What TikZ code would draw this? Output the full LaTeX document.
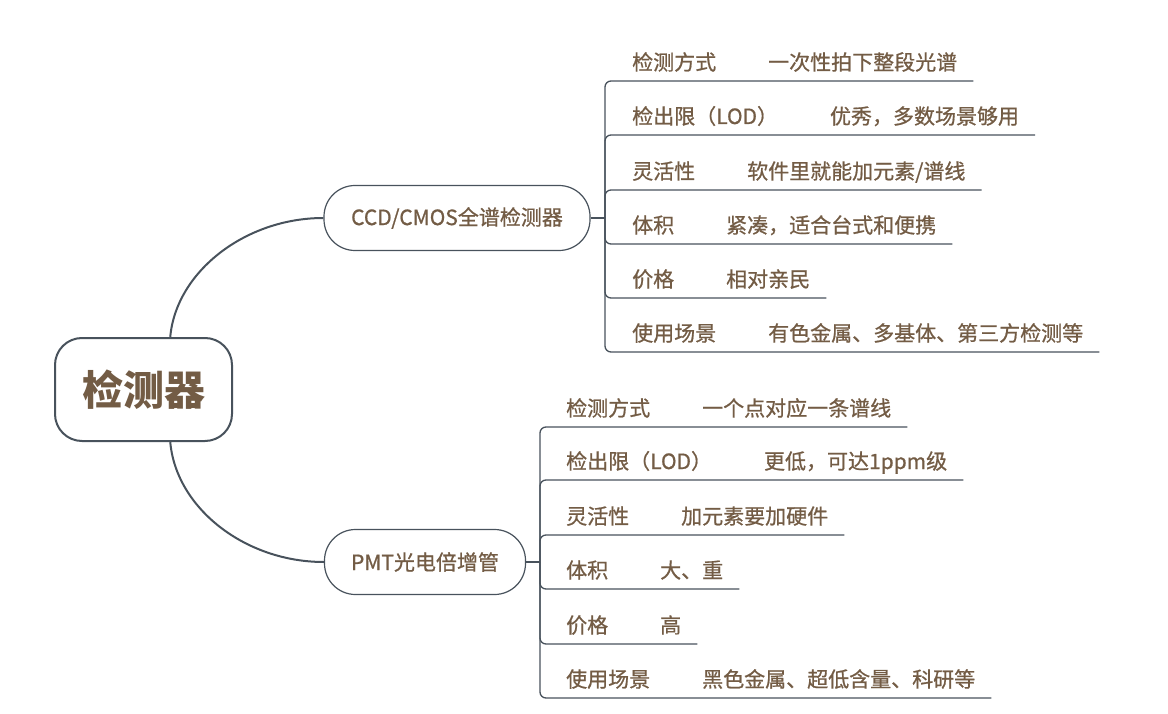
\documentclass[tikz,border=0pt]{standalone}
\usepackage{fontspec}
\setmainfont{Noto Sans CJK SC}
\newfontfamily\midcjk[FakeBold=0.8]{Noto Sans CJK SC}
\usetikzlibrary{positioning, calc}
\definecolor{ink}{RGB}{115,92,69}
\definecolor{slate}{RGB}{72,82,92}

\begin{document}
\begin{tikzpicture}[
    x=1pt, y=-1pt,
    root/.style={rectangle, rounded corners=27pt, draw=slate, line width=2pt, fill=white, minimum width=177pt, minimum height=103pt, text=ink, font=\fontsize{41}{41}\selectfont\bfseries},
    branch/.style={rectangle, rounded corners=31pt, draw=slate, line width=1.2pt, fill=white, minimum height=65pt, text=ink, font=\fontsize{21}{21}\midcjk},
    item/.style={anchor=base west, inner sep=0pt, text=ink, font=\fontsize{21}{21}\midcjk},
    limb/.style={draw=slate, line width=2pt},
    twig/.style={draw=slate, line width=1.3pt, rounded corners=6pt},
]
\useasboundingbox (0,0) rectangle (1168,714);

\node[root] (root) at (143.5,389.5) {检测器};

\node[branch, minimum width=266pt] (ccd) at (457,218) {CCD/CMOS全谱检测器};
\node[branch, minimum width=201pt] (pmt) at (425,562) {PMT光电倍增管};

\coordinate (cj) at (605,218);
\coordinate (pj) at (540,562);

% CCD/CMOS
\node[item] (c1) at (632,70) {检测方式\hspace{52pt}一次性拍下整段光谱};
\node[item] (c2) at (632,124) {检出限（LOD）\hspace{52pt}优秀，多数场景够用};
\node[item] (c3) at (632,179) {灵活性\hspace{52pt}软件里就能加元素/谱线};
\node[item] (c4) at (632,233) {体积\hspace{52pt}紧凑，适合台式和便携};
\node[item] (c5) at (632,287) {价格\hspace{52pt}相对亲民};
\node[item] (c6) at (632,341) {使用场景\hspace{52pt}有色金属、多基体、第三方检测等};

% PMT
\node[item] (p1) at (566,416) {检测方式\hspace{52pt}一个点对应一条谱线};
\node[item] (p2) at (566,469) {检出限（LOD）\hspace{52pt}更低，可达1ppm级};
\node[item] (p3) at (566,524) {灵活性\hspace{52pt}加元素要加硬件};
\node[item] (p4) at (566,578) {体积\hspace{52pt}大、重};
\node[item] (p5) at (566,633) {价格\hspace{52pt}高};
\node[item] (p6) at (566,687) {使用场景\hspace{52pt}黑色金属、超低含量、科研等};

\draw[limb] (root.63) .. controls (176,272) and (245,218) .. (ccd.west);
\draw[limb] (root.-63) .. controls (176,508) and (245,562) .. (pmt.west);

\draw[twig] (ccd.east) -- (cj);
\draw[twig] (cj) |- ([shift={(16,11)}]c1.base east);
\draw[twig] (cj) |- ([shift={(16,11)}]c2.base east);
\draw[twig] (cj) |- ([shift={(16,11)}]c3.base east);
\draw[twig] (cj) |- ([shift={(16,11)}]c4.base east);
\draw[twig] (cj) |- ([shift={(16,11)}]c5.base east);
\draw[twig] (cj) |- ([shift={(16,11)}]c6.base east);

\draw[twig] (pmt.east) -- (pj);
\draw[twig] (pj) |- ([shift={(16,11)}]p1.base east);
\draw[twig] (pj) |- ([shift={(16,11)}]p2.base east);
\draw[twig] (pj) |- ([shift={(16,11)}]p3.base east);
\draw[twig] (pj) |- ([shift={(16,11)}]p4.base east);
\draw[twig] (pj) |- ([shift={(16,11)}]p5.base east);
\draw[twig] (pj) |- ([shift={(16,11)}]p6.base east);

\end{tikzpicture}
\end{document}
